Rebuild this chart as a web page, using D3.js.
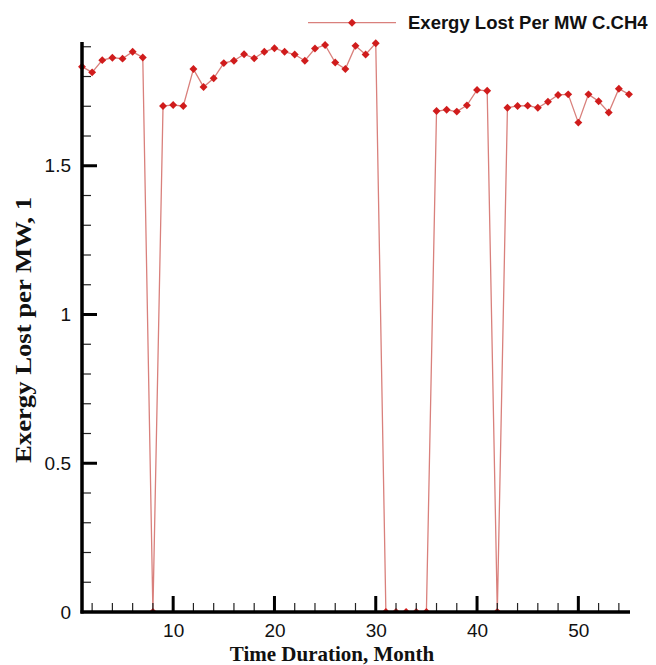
<!DOCTYPE html>
<html>
<head>
<meta charset="utf-8">
<script src="https://cdn.jsdelivr.net/npm/d3@7"></script>
<style>
  html, body { margin: 0; padding: 0; background: #fff; }
  svg { display: block; }
</style>
</head>
<body>
<svg id="chart" width="656" height="665"></svg>
<script>
// ---- data ----
const months = d3.range(1, 56);
const exergyLost = [
  1.833, 1.814, 1.855, 1.863, 1.860, 1.883, 1.864, 0,
  1.701, 1.704, 1.701, 1.825, 1.765, 1.794, 1.845, 1.853,
  1.875, 1.861, 1.883, 1.895, 1.883, 1.874, 1.853, 1.894,
  1.906, 1.847, 1.825, 1.903, 1.874, 1.912,
  0, 0, 0, 0, 0,
  1.684, 1.688, 1.682, 1.703, 1.755, 1.752, 0,
  1.695, 1.701, 1.702, 1.695, 1.715, 1.738, 1.740, 1.645,
  1.740, 1.717, 1.679, 1.759, 1.740
];
const xMajorTicks = [10, 20, 30, 40, 50];
const xMinorTicks = d3.range(2, 56, 2).filter(v => v % 10 !== 0);
const yMajorTicks = [0, 0.5, 1, 1.5];
const yMinorTicks = d3.range(0.1, 1.95, 0.1).map(v => +v.toFixed(1)).filter(v => !yMajorTicks.includes(v));
const seriesName = "Exergy Lost Per MW C.CH4";
const xTitle = "Time Duration, Month";
const yTitle = "Exergy Lost per MW, 1";

// ---- layout ----
const svg = d3.select("#chart");
const pLeft = 82, pRight = 630, pTop = 42, pBottom = 612;
const x = d3.scaleLinear().domain([1, 55.1]).range([pLeft, pRight]);
const y = d3.scaleLinear().domain([0, 1.916]).range([pBottom, pTop]);

const lineColor = "#d9807c";
const markColor = "#d01c1c";
const sansFont = "'Liberation Sans', Arial, sans-serif";
const serifFont = "'Liberation Serif', 'Times New Roman', serif";

svg.append("defs").append("clipPath").attr("id", "plotclip")
  .append("rect").attr("x", pLeft - 10).attr("y", 0).attr("width", pRight - pLeft + 20).attr("height", pBottom);

const data = months.map((m, i) => ({ m, v: exergyLost[i] }));
const diamond = d3.symbol().type(d3.symbolDiamond2).size(40);

const plot = svg.append("g").attr("clip-path", "url(#plotclip)");
plot.append("path")
  .datum(data)
  .attr("fill", "none")
  .attr("stroke", lineColor)
  .attr("stroke-width", 1.3)
  .attr("d", d3.line().x(d => x(d.m)).y(d => y(d.v)));

plot.selectAll("path.pt").data(data).join("path")
  .attr("class", "pt")
  .attr("transform", d => `translate(${x(d.m)},${y(d.v)})`)
  .attr("d", diamond)
  .attr("fill", markColor);

// ---- axes ----
const axX = svg.append("g").attr("transform", `translate(0,${pBottom})`);
axX.call(d3.axisBottom(x).tickValues(xMajorTicks).tickSize(0).tickPadding(12).tickFormat(d3.format("d")));
axX.select(".domain").remove();
axX.selectAll("text").attr("font-family", sansFont).attr("font-size", 19).attr("fill", "#111");
axX.selectAll(".maj").data(xMajorTicks).join("line")
  .attr("x1", d => x(d)).attr("x2", d => x(d)).attr("y1", 0).attr("y2", -16)
  .attr("stroke", "#000").attr("stroke-width", 3);
axX.selectAll(".min").data(xMinorTicks).join("line")
  .attr("x1", d => x(d)).attr("x2", d => x(d)).attr("y1", 0).attr("y2", -9)
  .attr("stroke", "#222").attr("stroke-width", 1.2);
axX.append("line").attr("x1", pLeft - 1.5).attr("x2", pRight).attr("y1", 0).attr("y2", 0)
  .attr("stroke", "#000").attr("stroke-width", 3.5);

const axY = svg.append("g").attr("transform", `translate(${pLeft},0)`);
axY.call(d3.axisLeft(y).tickValues(yMajorTicks).tickSize(0).tickPadding(11).tickFormat(d => d3.format("")(d)));
axY.select(".domain").remove();
axY.selectAll("text").attr("font-family", sansFont).attr("font-size", 19).attr("fill", "#111");
axY.selectAll(".maj").data(yMajorTicks.filter(d => d > 0)).join("line")
  .attr("x1", 0).attr("x2", 15).attr("y1", d => y(d)).attr("y2", d => y(d))
  .attr("stroke", "#000").attr("stroke-width", 3);
axY.selectAll(".min").data(yMinorTicks).join("line")
  .attr("x1", 0).attr("x2", 9).attr("y1", d => y(d)).attr("y2", d => y(d))
  .attr("stroke", "#222").attr("stroke-width", 1.2);
axY.append("line").attr("x1", 0).attr("x2", 0).attr("y1", pTop).attr("y2", pBottom + 1.5)
  .attr("stroke", "#000").attr("stroke-width", 3.5);

// ---- titles ----
svg.append("text")
  .attr("x", 332).attr("y", 661)
  .attr("text-anchor", "middle")
  .attr("font-family", serifFont).attr("font-weight", "bold").attr("font-size", 21)
  .attr("fill", "#111")
  .text(xTitle);

svg.append("text")
  .attr("transform", "translate(31,330) rotate(-90)")
  .attr("text-anchor", "middle")
  .attr("font-family", serifFont).attr("font-weight", "bold").attr("font-size", 23)
  .attr("textLength", 266).attr("lengthAdjust", "spacingAndGlyphs")
  .attr("fill", "#111")
  .text(yTitle);

// ---- legend ----
const lg = svg.append("g");
lg.append("line").attr("x1", 308).attr("x2", 396).attr("y1", 22.7).attr("y2", 22.7)
  .attr("stroke", lineColor).attr("stroke-width", 1.3);
lg.append("path").attr("transform", "translate(352,22.7)").attr("d", diamond).attr("fill", markColor);
lg.append("text").attr("x", 408).attr("y", 29)
  .attr("font-family", sansFont).attr("font-weight", "bold").attr("font-size", 18.5)
  .attr("fill", "#111")
  .text(seriesName);
</script>
</body>
</html>
